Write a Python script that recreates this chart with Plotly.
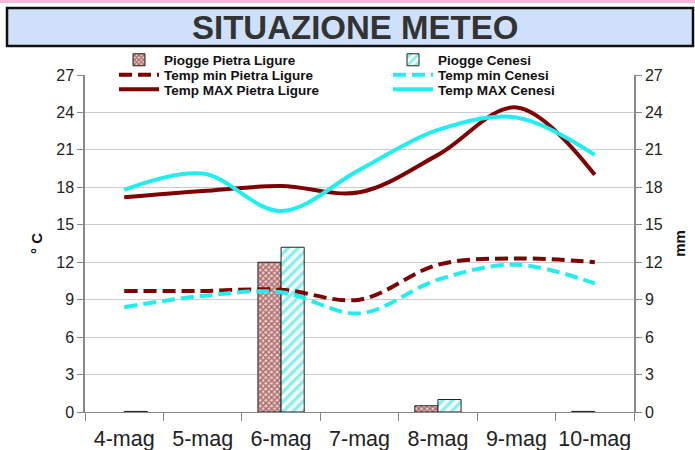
import plotly.graph_objects as go

days = ["4-mag", "5-mag", "6-mag", "7-mag", "8-mag", "9-mag", "10-mag"]
rain_pietra = [None, None, 12.0, None, 0.5, None, 0.05]
rain_cenesi = [0.05, None, 13.2, None, 1.0, None, None]
tmin_pietra = [9.7, 9.7, 9.8, 9.0, 11.8, 12.3, 12.0]
tmin_cenesi = [8.4, 9.3, 9.6, 7.9, 10.6, 11.8, 10.3]
tmax_pietra = [17.2, 17.7, 18.1, 17.6, 20.6, 24.4, 19.0]
tmax_cenesi = [17.8, 19.1, 16.1, 19.4, 22.6, 23.6, 20.6]
ticks = [0, 3, 6, 9, 12, 15, 18, 21, 24, 27]

RED = "#7f0000"
CYAN = "#22eeee"
FONT = "Liberation Sans, Arial, sans-serif"
DASH = "13px,6px"

fig = go.Figure()
fig.add_trace(go.Bar(x=days, y=rain_pietra, name="Piogge Pietra Ligure", yaxis="y", legend="legend",
                     marker=dict(color="#f0c4c4", line=dict(color="#222", width=1),
                                 pattern=dict(shape="x", fgcolor="#5a0a0a", bgcolor="#f3cccc", size=4, solidity=0.6))))
fig.add_trace(go.Bar(x=days, y=rain_cenesi, name="Piogge Cenesi", yaxis="y", legend="legend2",
                     marker=dict(color="white", line=dict(color="#222", width=1),
                                 pattern=dict(shape="/", fgcolor="#11e0e0", bgcolor="white", size=7, solidity=0.5))))
fig.add_trace(go.Scatter(x=days, y=tmin_pietra, name="Temp min Pietra Ligure", yaxis="y2", legend="legend3",
                         mode="lines", line=dict(color=RED, width=4, dash=DASH, shape="spline")))
fig.add_trace(go.Scatter(x=days, y=tmin_cenesi, name="Temp min Cenesi", yaxis="y2", legend="legend4",
                         mode="lines", line=dict(color=CYAN, width=4, dash=DASH, shape="spline")))
fig.add_trace(go.Scatter(x=days, y=tmax_pietra, name="Temp MAX Pietra Ligure", yaxis="y2", legend="legend5",
                         mode="lines", line=dict(color=RED, width=4, shape="spline")))
fig.add_trace(go.Scatter(x=days, y=tmax_cenesi, name="Temp MAX Cenesi", yaxis="y2", legend="legend6",
                         mode="lines", line=dict(color=CYAN, width=4, shape="spline")))

L, R, T, B = 85, 61, 75, 38
W, H = 695, 450
pw, ph = W - L - R, H - T - B

def px(x):
    return (x - L) / pw

def py(y):
    return (H - B - y) / ph

def leg(xp, yp):
    return dict(x=px(xp), y=py(yp), bgcolor="rgba(0,0,0,0)",
                font=dict(family=FONT, size=13.5, color="#111", weight="bold"),
                orientation="v", yanchor="middle", xanchor="left", itemwidth=40,
                borderwidth=0)

col1, col2 = 114, 388
rows = [60, 75, 89.5]

fig.update_layout(
    width=W, height=H,
    margin=dict(l=L, r=R, t=T, b=B, autoexpand=False),
    paper_bgcolor="white", plot_bgcolor="white",
    showlegend=True,
    barmode="group", bargap=0.41, bargroupgap=0,
    font=dict(family=FONT, color="#222"),
    xaxis=dict(type="category", showline=True, linecolor="#888", linewidth=1,
               ticks="outside", tickson="boundaries", ticklen=8, tickcolor="#888",
               tickangle=0, automargin=False, ticklabelstandoff=7,
               tickfont=dict(size=21.5, color="#222"), showgrid=False),
    yaxis=dict(range=[0, 27], tickvals=ticks, side="right", showline=True, linecolor="#888", linewidth=1.5,
               ticks="outside", ticklen=6, tickcolor="#888", tickfont=dict(size=16, color="#222"),
               showgrid=True, gridcolor="#cccccc", zeroline=False, automargin=False,
               title=dict(text="mm", font=dict(size=15, color="#111", weight="bold"), standoff=13)),
    yaxis2=dict(range=[0, 27], tickvals=ticks, side="left", overlaying="y", showline=True, linecolor="#888",
                linewidth=1.5, ticks="outside", ticklen=6, tickcolor="#888", tickfont=dict(size=16, color="#222"),
                showgrid=False, zeroline=False, automargin=False,
                title=dict(text="° C", font=dict(size=15, color="#111", weight="bold"), standoff=10)),
    legend=leg(col1, rows[0]),
    legend2=leg(col2, rows[0]),
    legend3=leg(col1, rows[1]),
    legend4=leg(col2, rows[1]),
    legend5=leg(col1, rows[2]),
    legend6=leg(col2, rows[2]),
    shapes=[
        dict(type="rect", xref="paper", yref="paper", x0=px(0), x1=px(W), y0=py(0), y1=py(3),
             fillcolor="#f4b8d8", line=dict(width=0), layer="above"),
        dict(type="rect", xref="paper", yref="paper", x0=px(7), x1=px(693), y0=py(46), y1=py(8),
             fillcolor="#cfe0fb", line=dict(color="#111", width=2.5), layer="above"),
    ],
    annotations=[
        dict(text="SITUAZIONE METEO", xref="paper", yref="paper", x=px(355), y=py(27.5),
             xanchor="center", yanchor="middle", showarrow=False,
             font=dict(family="Liberation Sans, Arial", size=33, color="#333", weight="bold")),
    ],
)

fig.write_html("out.html", config={"displayModeBar": False},
               post_script="document.body.style.margin='0';")
